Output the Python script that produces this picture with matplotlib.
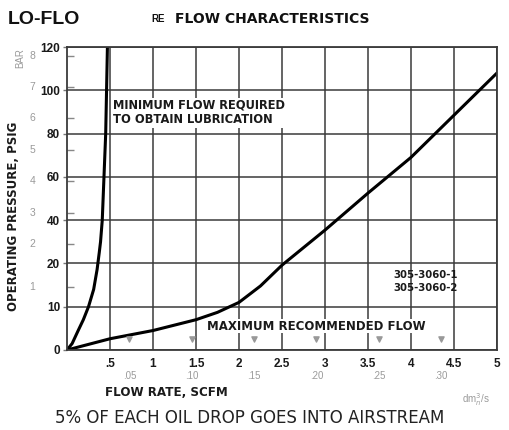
import numpy as np
import matplotlib
matplotlib.use("Agg")
import matplotlib.pyplot as plt
import matplotlib.transforms as mtransforms
from matplotlib.font_manager import FontProperties

# ---- data ----
x_ticks = [0.5, 1, 1.5, 2, 2.5, 3, 3.5, 4, 4.5, 5]
x_tick_labels = [".5", "1", "1.5", "2", "2.5", "3", "3.5", "4", "4.5", "5"]
y_ticks = [0, 10, 20, 40, 60, 80, 100, 120]
y_tick_labels = ["0", "10", "20", "40", "60", "80", "100", "120"]
bar_values = [1, 2, 3, 4, 5, 6, 7, 8]
psi_per_bar = 14.5
dm3s_values = [0.05, 0.10, 0.15, 0.20, 0.25, 0.30]
dm3s_labels = [".05", ".10", ".15", ".20", ".25", ".30"]
scfm_per_dm3s = 14.5

# minimum flow required curve (SCFM vs PSIG)
min_flow_psig = [0, 1.5, 4.5, 7, 10, 14, 18.6, 25, 30, 40, 50, 60, 80, 100, 120]
min_flow_scfm = [0, 0.06, 0.13, 0.19, 0.25, 0.31, 0.35, 0.375, 0.39, 0.41, 0.42, 0.43, 0.45, 0.46, 0.47]

# maximum recommended flow curve
max_flow_scfm = [0, 0.5, 1.0, 1.5, 1.75, 2.0, 2.25, 2.5, 3.0, 3.5, 4.0, 4.5, 5.0]
max_flow_psig = [0, 2.6, 4.5, 7.0, 8.7, 11.0, 14.8, 19.6, 35.4, 52.5, 69, 88.5, 108]


def fwd(v):
    v = np.asarray(v, dtype=float)
    return np.where(v <= 20, v / 10.0, 2 + (v - 20) / 20.0)


def inv(t):
    t = np.asarray(t, dtype=float)
    return np.where(t <= 2, t * 10.0, 20 + (t - 2) * 20.0)


W, H = 509, 430
fig = plt.figure(figsize=(W / 100, H / 100), dpi=100)
fig.patch.set_facecolor("white")
ax = fig.add_axes([67 / W, 1 - 350 / H, 430 / W, 303 / H])
ax.set_yscale("function", functions=(fwd, inv))
ax.set_xlim(0, 5)
ax.set_ylim(0, 120)

grid_c = "#3a3a3a"
ax.set_xticks(x_ticks)
ax.set_xticklabels(x_tick_labels)
ax.set_yticks(y_ticks)
ax.set_yticklabels(y_tick_labels)
ax.grid(True, color=grid_c, lw=1.1)
ax.set_axisbelow(True)
for s in ax.spines.values():
    s.set_color(grid_c)
    s.set_linewidth(1.3)

tick_fp = FontProperties(family="Liberation Sans", weight="bold", size=8.5)
for lab in ax.get_xticklabels() + ax.get_yticklabels():
    lab.set_fontproperties(tick_fp)
    lab.set_color("#1a1a1a")
ax.tick_params(axis="x", length=0, pad=6)
ax.tick_params(axis="y", length=3, width=1, color="#777", pad=2)

# minor ticks (bar) inside on left
ax.set_yticks([b * psi_per_bar for b in bar_values], minor=True)
ax.tick_params(axis="y", which="minor", direction="in", length=5, width=1, color="#888")

# curves
ax.plot(min_flow_scfm, min_flow_psig, color="black", lw=2.2, solid_capstyle="round",
        solid_joinstyle="round")
ax.plot(max_flow_scfm, max_flow_psig, color="black", lw=2.2, solid_capstyle="round",
        solid_joinstyle="round")

# dm3/s marks inside near bottom
trans_xa = mtransforms.blended_transform_factory(ax.transData, ax.transAxes)
ax.scatter([v * scfm_per_dm3s for v in dm3s_values], [0.035] * len(dm3s_values),
           marker="v", s=14, color="#999", transform=trans_xa, zorder=3)

# secondary gray labels: bar on left
trans_ay = mtransforms.blended_transform_factory(ax.transAxes, ax.transData)
for b in bar_values:
    ax.text(-0.081, b * psi_per_bar, str(b), transform=trans_ay, ha="center", va="center",
            fontsize=7.5, color="#9a9a9a", family="Liberation Sans")
ax.text(-0.109, 115, "BAR", transform=trans_ay, rotation=90, ha="center", va="center",
        fontsize=7, color="#9a9a9a", family="Liberation Sans")

# secondary gray labels: dm3/s bottom
for v, l in zip(dm3s_values, dm3s_labels):
    ax.text(v * scfm_per_dm3s, -0.085, l, transform=trans_xa, ha="center", va="center",
            fontsize=7, color="#9a9a9a", family="Liberation Sans")
ax.text(4.75, -0.165, "dm$^3_n$/s", transform=trans_xa, ha="center", va="center",
        fontsize=7, color="#9a9a9a", family="Liberation Sans")

# axis labels
fig.text(105 / W, 1 - 393 / H, "FLOW RATE, SCFM", ha="left", va="center",
         fontsize=8.6, weight="bold", family="DejaVu Sans", color="#1a1a1a")
fig.text(14 / W, 1 - 216 / H, "OPERATING PRESSURE, PSIG", ha="center", va="center",
         rotation=90, fontsize=8.5, weight="bold", family="DejaVu Sans", color="#1a1a1a")

# annotations
ax.text(0.54, 96, "MINIMUM FLOW REQUIRED\nTO OBTAIN LUBRICATION", ha="left", va="top",
        fontsize=8.3, weight="bold", family="DejaVu Sans", color="#1a1a1a", linespacing=1.15,
        bbox=dict(facecolor="white", edgecolor="none", pad=1))
ax.text(1.63, 5.5, "MAXIMUM RECOMMENDED FLOW", ha="left", va="center",
        fontsize=8.5, weight="bold", family="DejaVu Sans", color="#1a1a1a",
        bbox=dict(facecolor="white", edgecolor="none", pad=0.5))
ax.text(3.80, 15.8, "305-3060-1\n305-3060-2", ha="left", va="center",
        fontsize=7.3, weight="bold", family="DejaVu Sans", color="#1a1a1a", linespacing=1.45)

# titles
fig.text(8 / W, 1 - 19 / H, "LO-FLO", ha="left", va="center",
         fontsize=14, weight="bold", family="Liberation Sans", color="#111")
fig.text(151 / W, 1 - 19 / H, "RE", ha="left", va="center",
         fontsize=7, weight="bold", family="Liberation Sans", color="#111")
fig.text(175 / W, 1 - 19 / H, "FLOW CHARACTERISTICS", ha="left", va="center",
         fontsize=10, weight="bold", family="DejaVu Sans", color="#111")

# caption
fig.text(55 / W, 1 - 418 / H, "5% OF EACH OIL DROP GOES INTO AIRSTREAM", ha="left", va="center",
         fontsize=12, family="DejaVu Sans", color="#222")

fig.savefig("out.png", dpi=100, facecolor="white")
